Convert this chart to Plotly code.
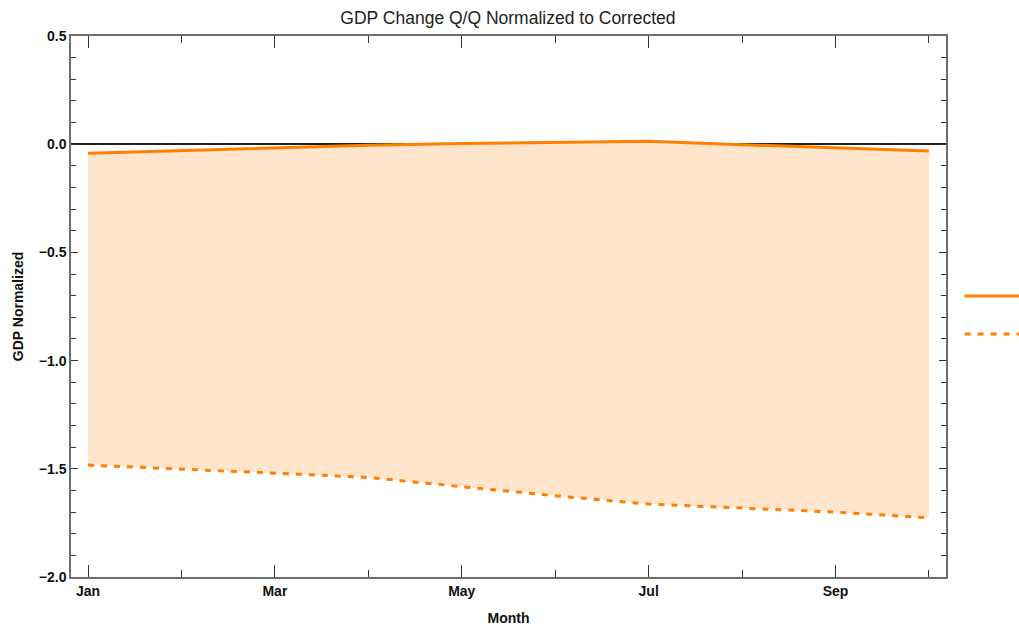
import plotly.graph_objects as go

# ---- data ----
month_pos = [1, 2, 3, 4, 5, 6, 7, 8, 9, 10]
month_names = ["Jan", "Feb", "Mar", "Apr", "May", "Jun", "Jul", "Aug", "Sep", "Oct"]
normalized = [-0.042, -0.030, -0.017, -0.005, 0.003, 0.008, 0.014, -0.002, -0.016, -0.032]
corrected = [-1.483, -1.500, -1.520, -1.540, -1.583, -1.625, -1.663, -1.682, -1.700, -1.727]
x_tick_vals = [1, 3, 5, 7, 9]
x_tick_text = ["Jan", "Mar", "May", "Jul", "Sep"]
y_tick_vals = [-2.0, -1.5, -1.0, -0.5, 0.0, 0.5]

ORANGE = "rgb(255,127,0)"
FILL = "rgba(255,229,204,1)"
FRAME = "#6e6e6e"
TICK = "#333333"
FONT = "Liberation Sans, Arial, sans-serif"

fig = go.Figure()
# filled band between the two series (no legend entries)
fig.add_trace(go.Scatter(
    x=month_pos, y=corrected, mode="lines", line=dict(width=0),
    showlegend=False, hoverinfo="skip"))
fig.add_trace(go.Scatter(
    x=month_pos, y=normalized, mode="lines", line=dict(width=0),
    fill="tonexty", fillcolor=FILL, showlegend=False, hoverinfo="skip"))
# the lines
fig.add_trace(go.Scatter(
    x=month_pos, y=normalized, mode="lines", name="",
    line=dict(color=ORANGE, width=3),
    legendgroup="a", legendrank=1, hoverinfo="skip"))
fig.add_trace(go.Scatter(
    x=month_pos, y=corrected, mode="lines", name="",
    line=dict(color=ORANGE, width=3, dash="6px,7px"),
    legendgroup="b", legendrank=2, hoverinfo="skip"))

bold = dict(family=FONT, size=14, color="#111111")

fig.update_layout(
    width=1019, height=626,
    margin=dict(l=71, r=73, t=36, b=49, autoexpand=False),
    paper_bgcolor="white", plot_bgcolor="white",
    title=dict(text="GDP Change Q/Q Normalized to Corrected",
               font=dict(family=FONT, size=17.5, color="#222222"),
               x=0.4985, xanchor="center", y=0.971, yanchor="middle"),
    showlegend=True,
    legend=dict(x=1.0155, xanchor="left", y=0.546, yanchor="top",
                traceorder="grouped", tracegroupgap=19, itemwidth=60,
                font=dict(family=FONT, size=12, color="#222222"),
                bgcolor="rgba(0,0,0,0)"),
)

fig.update_xaxes(
    range=[0.818, 10.182],
    tickmode="array", tickvals=x_tick_vals, ticktext=x_tick_text,
    ticks="inside", ticklen=12, tickwidth=1.3, tickcolor=TICK,
    minor=dict(dtick=1, tick0=0, ticks="inside", ticklen=7, tickwidth=1.2, tickcolor=TICK, showgrid=False),
    showline=True, linecolor=FRAME, linewidth=1.5, mirror="ticks",
    showgrid=False, zeroline=False,
    tickfont=dict(family=FONT, size=14, color="#111111", weight="bold"),
    title=dict(text="<b>Month</b>", font=bold, standoff=16),
)
fig.update_yaxes(
    range=[-2.0, 0.5],
    tickmode="array", tickvals=y_tick_vals, tickformat=".1f",
    ticks="inside", ticklen=7, tickwidth=1.3, tickcolor=TICK,
    minor=dict(dtick=0.1, tick0=0, ticks="inside", ticklen=5, tickwidth=1.2, tickcolor=TICK, showgrid=False),
    showline=True, linecolor=FRAME, linewidth=1.5, mirror="ticks",
    showgrid=False,
    zeroline=True, zerolinecolor="#222222", zerolinewidth=2,
    tickfont=dict(family=FONT, size=14, color="#111111", weight="bold"),
    title=dict(text="<b>GDP Normalized</b>", font=bold, standoff=12),
)

fig.write_html("out.html", config={"displayModeBar": False},
               post_script="document.body.style.margin='0';")
